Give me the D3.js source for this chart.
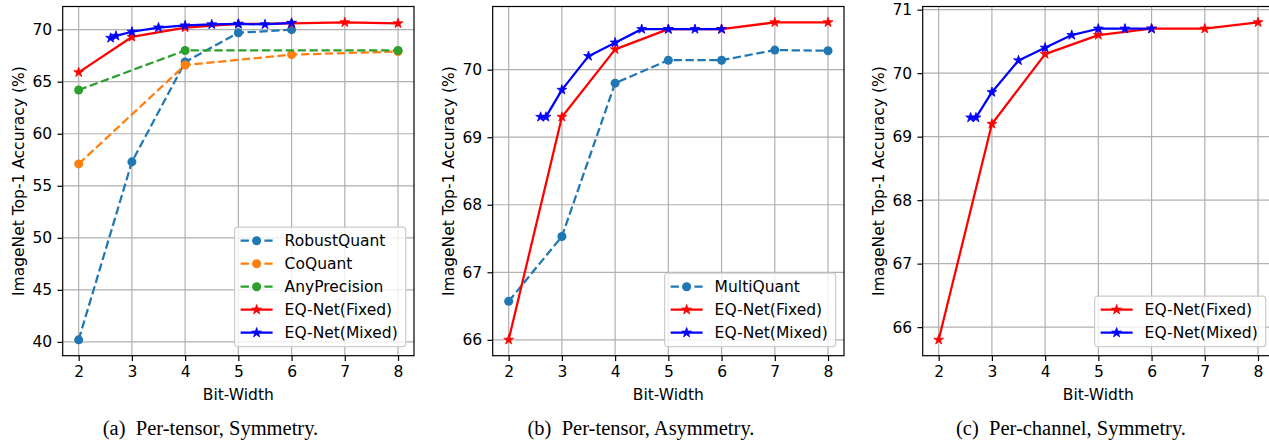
<!DOCTYPE html>
<html>
<head>
<meta charset="utf-8">
<script src="https://cdn.jsdelivr.net/npm/d3@7"></script>
<style>
  body { margin: 0; background: #fff; }
  svg { display: block; }
  text { font-family: "DejaVu Sans", sans-serif; }
  .caption { font-family: "Liberation Serif", "Times New Roman", serif; }
</style>
</head>
<body>
<div id="chart"></div>
<script>
// x values (bit-width)
const bitsFixed = [2, 3, 4, 5, 6, 7, 8];
const bitsMixed = [2.6, 2.7, 3, 3.5, 4, 4.5, 5, 5.5, 6];
const xTicks = [2, 3, 4, 5, 6, 7, 8];

// (a) per-tensor, symmetry
const robustQuantBits = [2, 3, 4, 5, 6];
const robustQuantAcc = [40.2, 57.3, 66.9, 69.7, 70.0];
const coQuantBits = [2, 4, 6, 8];
const coQuantAcc = [57.1, 66.6, 67.6, 67.9];
const anyPrecisionBits = [2, 4, 8];
const anyPrecisionAcc = [64.2, 68.0, 68.0];
const fixedAccA = [65.9, 69.3, 70.2, 70.55, 70.6, 70.7, 70.6];
const mixedAccA = [69.2, 69.4, 69.8, 70.2, 70.4, 70.5, 70.55, 70.5, 70.65];
const yTicksA = [40, 45, 50, 55, 60, 65, 70];

// (b) per-tensor, asymmetry
const multiQuantBits = [2, 3, 4, 5, 6, 7, 8];
const multiQuantAcc = [66.57, 67.53, 69.8, 70.14, 70.14, 70.29, 70.28];
const fixedAccB = [66.0, 69.3, 70.3, 70.6, 70.6, 70.7, 70.7];
const mixedAccB = [69.3, 69.3, 69.7, 70.2, 70.4, 70.6, 70.6, 70.6, 70.6];
const yTicksB = [66, 67, 68, 69, 70];

// (c) per-channel, symmetry
const fixedAccC = [65.8, 69.2, 70.3, 70.6, 70.7, 70.7, 70.8];
const mixedAccC = [69.3, 69.3, 69.7, 70.2, 70.4, 70.6, 70.7, 70.7, 70.7];
const yTicksC = [66, 67, 68, 69, 70, 71];

const captions = ["(a)\u2002Per-tensor, Symmetry.", "(b)\u2002Per-tensor, Asymmetry.", "(c)\u2002Per-channel, Symmetry."];

const W = 1269, H = 444;
const svg = d3.select('#chart').append('svg').attr('width', W).attr('height', H);

const styles = {
  robust: { name: 'RobustQuant', color: '#1f77b4', dash: '8.3,3.6', marker: 'circle' },
  co: { name: 'CoQuant', color: '#ff7f0e', dash: '8.3,3.6', marker: 'circle' },
  any: { name: 'AnyPrecision', color: '#2ca02c', dash: '8.3,3.6', marker: 'circle' },
  multi: { name: 'MultiQuant', color: '#1f77b4', dash: '8.3,3.6', marker: 'circle' },
  fixed: { name: 'EQ-Net(Fixed)', color: 'red', dash: null, marker: 'star' },
  mixed: { name: 'EQ-Net(Mixed)', color: 'blue', dash: null, marker: 'star' }
};

function zip(xs, ys) { return xs.map((x, i) => ({ x: x, y: ys[i] })); }

const panels = [
  {
    left: 62.7, yTicks: yTicksA, caption: captions[0], captionX: 210.5,
    series: [
      { s: styles.robust, data: zip(robustQuantBits, robustQuantAcc) },
      { s: styles.co, data: zip(coQuantBits, coQuantAcc) },
      { s: styles.any, data: zip(anyPrecisionBits, anyPrecisionAcc) },
      { s: styles.fixed, data: zip(bitsFixed, fixedAccA) },
      { s: styles.mixed, data: zip(bitsMixed, mixedAccA) }
    ]
  },
  {
    left: 492.7, yTicks: yTicksB, caption: captions[1], captionX: 641,
    series: [
      { s: styles.multi, data: zip(multiQuantBits, multiQuantAcc) },
      { s: styles.fixed, data: zip(bitsFixed, fixedAccB) },
      { s: styles.mixed, data: zip(bitsMixed, mixedAccB) }
    ]
  },
  {
    left: 922.7, yTicks: yTicksC, caption: captions[2], captionX: 1071,
    series: [
      { s: styles.fixed, data: zip(bitsFixed, fixedAccC) },
      { s: styles.mixed, data: zip(bitsMixed, mixedAccC) }
    ]
  }
];

const plotW = 351.3, plotTop = 6.5, plotBottom = 355.7;
const tickLen = 5.25, tickPad = 5.25, fontSize = 15.5;

function padded(ext) {
  const m = (ext[1] - ext[0]) * 0.05;
  return [ext[0] - m, ext[1] + m];
}

function drawMarker(g, shape, color, x, y) {
  if (shape === 'circle') {
    g.append('circle').attr('cx', x).attr('cy', y).attr('r', 4.5).attr('fill', color);
  } else {
    g.append('path')
      .attr('d', d3.symbol().type(d3.symbolStar).size(30)())
      .attr('transform', `translate(${x},${y})`)
      .attr('fill', color).attr('stroke', color).attr('stroke-width', 0.8);
  }
}

panels.forEach((p) => {
  const allX = p.series.flatMap((d) => d.data.map((v) => v.x));
  const allY = p.series.flatMap((d) => d.data.map((v) => v.y));
  const x = d3.scaleLinear().domain(padded(d3.extent(allX))).range([p.left, p.left + plotW]);
  const y = d3.scaleLinear().domain(padded(d3.extent(allY))).range([plotBottom, plotTop]);
  const g = svg.append('g');

  // grid
  g.append('g').selectAll('line').data(xTicks).join('line')
    .attr('x1', (d) => x(d)).attr('x2', (d) => x(d)).attr('y1', plotTop).attr('y2', plotBottom)
    .attr('stroke', '#b0b0b0').attr('stroke-width', 1.2);
  g.append('g').selectAll('line').data(p.yTicks).join('line')
    .attr('x1', p.left).attr('x2', p.left + plotW).attr('y1', (d) => y(d)).attr('y2', (d) => y(d))
    .attr('stroke', '#b0b0b0').attr('stroke-width', 1.2);

  // series
  const line = d3.line().x((d) => x(d.x)).y((d) => y(d.y));
  p.series.forEach((sr) => {
    g.append('path').datum(sr.data)
      .attr('fill', 'none').attr('stroke', sr.s.color).attr('stroke-width', 2.25)
      .attr('stroke-dasharray', sr.s.dash).attr('stroke-linejoin', 'round')
      .attr('d', line);
    sr.data.forEach((d) => drawMarker(g, sr.s.marker, sr.s.color, x(d.x), y(d.y)));
  });

  // axes
  const xAxis = g.append('g').attr('transform', `translate(0,${plotBottom})`)
    .call(d3.axisBottom(x).tickValues(xTicks).tickFormat(d3.format('d'))
      .tickSize(tickLen).tickPadding(tickPad).tickSizeOuter(0));
  const yAxis = g.append('g').attr('transform', `translate(${p.left},0)`)
    .call(d3.axisLeft(y).tickValues(p.yTicks).tickFormat(d3.format('d'))
      .tickSize(tickLen).tickPadding(tickPad).tickSizeOuter(0));
  [xAxis, yAxis].forEach((a) => {
    a.select('.domain').remove();
    a.selectAll('line').attr('stroke', '#000').attr('stroke-width', 1.2);
    a.selectAll('text').attr('font-size', fontSize).attr('fill', '#000')
      .attr('font-family', '"DejaVu Sans", sans-serif');
  });

  // spines
  g.append('rect').attr('x', p.left).attr('y', plotTop).attr('width', plotW).attr('height', plotBottom - plotTop)
    .attr('fill', 'none').attr('stroke', '#000').attr('stroke-width', 1.2);

  // labels
  g.append('text').attr('x', p.left + plotW / 2).attr('y', 399.5)
    .attr('text-anchor', 'middle').attr('font-size', fontSize).text('Bit-Width');
  g.append('text')
    .attr('transform', `translate(${p.left - 39},${(plotTop + plotBottom) / 2}) rotate(-90)`)
    .attr('text-anchor', 'middle').attr('font-size', fontSize)
    .text('ImageNet Top-1 Accuracy (%)');
  g.append('text').attr('class', 'caption').attr('x', p.captionX).attr('y', 435)
    .attr('text-anchor', 'middle').attr('font-size', 20.5).text(p.caption);

  // legend (lower right)
  const rowH = 23, handleW = 32;
  const lg = g.append('g');
  const box = lg.append('rect');
  const rows = p.series.map((sr) => {
    const row = lg.append('g');
    row.append('line').attr('x1', 0).attr('x2', handleW).attr('y1', 0).attr('y2', 0)
      .attr('stroke', sr.s.color).attr('stroke-width', 2.25).attr('stroke-dasharray', sr.s.dash);
    drawMarker(row, sr.s.marker, sr.s.color, handleW / 2, 0);
    row.append('text').attr('x', handleW + 12).attr('y', 0).attr('dy', '0.36em')
      .attr('font-size', fontSize).text(sr.s.name);
    return row;
  });
  const textW = d3.max(lg.selectAll('text').nodes(), (n) => n.getComputedTextLength());
  const boxW = 6 + handleW + 12 + textW + 8;
  const boxH = (p.series.length - 1) * rowH + 27.5;
  const bx = p.left + plotW - 8.3 - boxW;
  const by = plotBottom - 9 - boxH;
  box.attr('x', 0).attr('y', 0).attr('width', boxW).attr('height', boxH).attr('rx', 3)
    .attr('fill', '#fff').attr('fill-opacity', 0.8).attr('stroke', '#cccccc').attr('stroke-width', 1.2);
  lg.attr('transform', `translate(${bx},${by})`);
  rows.forEach((r, i) => r.attr('transform', `translate(6,${13.5 + i * rowH})`));
});
</script>
</body>
</html>
